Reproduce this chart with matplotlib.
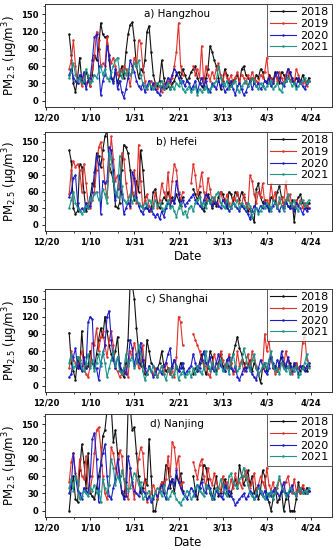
import matplotlib
matplotlib.use("Agg")
import matplotlib.pyplot as plt
import numpy as np
from matplotlib.ticker import FixedLocator, MultipleLocator

nan = np.nan

# day offsets from 12/20; data cover 12/31 .. 4/23
days = np.arange(11, 126)
years = ["2018", "2019", "2020", "2021"]
colors = ["#111111", "#e0302c", "#1c1cc8", "#1a9488"]

tick_pos = [0, 21, 42, 63, 84, 105, 126]
tick_lab = ["12/20", "1/10", "1/31", "2/21", "3/13", "4/3", "4/24"]

hz_2018 = [115, 80, 30, 15, 40, 75, 35,
           30, 50, 40, 25, 45, 80, 70,
           90, 135, 115, 110, 112, 70, 40,
           35, 50, 30, 45, 60, 40, 85,
           115, 132, 136, 105, 60, 40, 55,
           50, 70, 120, 130, 85, 45, 30,
           25, 35, 70, 40, 22, 25, 20,
           30, 35, 45, 50, 40, 55, 45,
           35, 40, 50, 55, 60, 40, 30,
           25, 20, 40, 55, 95, 85, 70,
           60, 40, 20, 35, 55, 45, 30,
           25, 35, 40, 45, 30, 55, 60,
           45, 40, 35, 40, 30, 45, 40,
           55, 50, 35, 30, 45, 40, 35,
           50, 40, 30, 50, 45, 35, 40,
           50, 35, 30, 40, 35, 30, 45,
           35, 30, 40]
hz_2019 = [55, 70, 105, 60, 30, 40, 25,
           45, 30, 35, 25, 55, 75, 120,
           105, 60, 65, 60, 110, 80, 65,
           75, 60, 45, 55, 50, 60, 55,
           45, 25, 55, 75, 60, 105, 100,
           60, 35, 20, 30, 35, 25, 30,
           20, 25, 15, 30, 25, 35, 30,
           40, 60, 85, 135, 60, 45, nan,
           nan, nan, nan, 60, 45, 55, 40,
           95, 30, 60, 45, 35, 50, 40,
           55, 65, 45, 30, 50, 40, 35,
           45, 30, 40, 50, 35, 45, 40,
           30, 45, 35, 50, 40, 35, 30,
           45, 40, 50, 75, 35, 40, 30,
           45, 35, 50, 40, 30, 45, 55,
           35, 40, 30, 55, 45, 35, 30,
           35, 25, 35]
hz_2020 = [45, 55, 40, 35, 30, 45, 35,
           50, 20, 35, 40, 70, 110, 115,
           60, 10, 35, 45, 95, 80, 40,
           30, 55, 20, 35, 15, 5, 20,
           40, 70, 60, 50, 35, 25, 20,
           30, 15, 25, 35, 20, 30, 20,
           15, 10, 25, 20, 30, 40, 35,
           45, 55, 50, 40, 30, 35, 25,
           35, 30, 20, 25, 35, 15, 30,
           40, 25, 35, 20, 15, 30, 25,
           20, 35, 25, 30, 15, 20, 25,
           35, 20, 10, 25, 30, 20, 10,
           15, 25, 35, 20, 30, 25, 30,
           20, 25, 35, 30, 40, 25, 30,
           45, 50, 40, 30, 25, 35, 55,
           50, 40, 30, 25, 40, 35, 25,
           20, 30, 35]
hz_2021 = [40, 50, 65, 45, 35, 40, 30,
           35, 55, 45, 30, 35, 45, 40,
           50, 60, 45, 55, 40, 35, 50,
           60, 70, 75, 50, 40, 55, 45,
           55, 45, 50, 65, 60, 70, 45,
           30, 25, 20, 30, 25, 20, 25,
           30, 25, 35, 20, 25, 30, 20,
           25, 20, 30, 25, 35, 20, 15,
           20, 25, 15, 20, 25, 10, 20,
           15, 20, 25, 15, 20, 25, 30,
           35, 60, 40, 30, 25, 35, 20,
           25, 30, 35, 20, 15, 25, 30,
           35, 25, 30, 40, 35, 25, 20,
           30, 25, 20, 25, 30, 35, 20,
           25, 30, 20, 15, 30, 35, 40,
           35, 25, 30, 20, 25, 30, 35,
           40, 30, 35]

hf_2018 = [135, 115, 30, 20, 25, 110, 105,
           60, 25, 35, 50, 75, 70, 130,
           125, 105, 135, 160, 170, 110, 95,
           80, 35, 30, 40, 100, 145, 140,
           130, 100, 60, 45, 80, 60, 135,
           100, 50, 30, 25, 30, 60, 65,
           40, 30, 40, 50, 45, 60, 45,
           50, 40, 55, 45, 35, 50, nan,
           nan, nan, nan, 65, 55, 45, 60,
           30, 25, 40, 55, 45, 30, 40,
           35, 50, 60, 55, 45, 30, 60,
           55, 40, 60, 55, 45, 60, 50,
           40, 25, 30, 15, 5, 65, 75,
           50, 40, 45, 35, 30, 50, 45,
           40, 60, 70, 50, 35, 45, 35,
           30, 45, 5, 40, 50, 55, 40,
           35, 30, 40]
hf_2019 = [55, 100, 115, 105, 110, 100, 60,
           110, 75, 40, 30, 45, 60, 100,
           140, 150, 120, 75, 50, 100, 160,
           120, 80, 90, 65, 130, 120, 75,
           50, 30, 60, 100, 40, 145, 80,
           30, 45, 55, 35, 25, 35, 60,
           30, 45, 75, 60, 50, 95, 40,
           80, 110, 100, 60, 45, 60, nan,
           nan, nan, 75, 110, 90, 55, 70,
           95, 60, 45, 85, 65, 40, 50,
           40, 35, 60, 45, 40, 55, 40,
           30, 50, 45, 60, 40, 35, 55,
           40, 30, 90, 80, 55, 40, 60,
           50, 75, 40, 45, 35, 75, 45,
           60, 30, 40, 50, 35, 80, 45,
           55, 35, 30, 45, 35, 45, 30,
           40, 35, 30]
hf_2020 = [50, 60, 85, 90, 40, 25, 30,
           25, 40, 30, 35, 60, 95, 125,
           110, 20, 80, 75, 80, 140, 135,
           100, 45, 65, 90, 55, 20, 30,
           40, 35, 95, 85, 50, 35, 25,
           20, 30, 35, 25, 30, 20, 15,
           20, 10, 25, 15, 30, 40, 35,
           45, 40, 80, 55, 40, 45, 35,
           40, 45, 50, 55, 45, 40, 35,
           30, 45, 55, 50, 40, 35, 45,
           40, 35, 30, 45, 40, 35, 25,
           30, 40, 35, 30, 25, 35, 30,
           25, 20, 10, 25, 35, 30, 25,
           35, 30, 40, 35, 25, 30, 35,
           40, 30, 25, 35, 30, 40, 35,
           30, 35, 25, 40, 35, 30, 20,
           30, 25, 30]
hf_2021 = [30, 45, 60, 40, 30, 25, 20,
           25, 35, 30, 50, 45, 55, 60,
           45, 50, 65, 55, 40, 130, 120,
           80, 60, 50, 125, 70, 45, 40,
           45, 55, 40, 50, 45, 40, 35,
           30, 40, 35, 45, 40, 30, 45,
           35, 40, 30, 25, 35, 45, 30,
           35, 25, 15, 30, 40, 20, 25,
           15, 30, 35, 25, 40, 45, 50,
           35, 40, 30, 45, 40, 50, 45,
           55, 60, 40, 35, 30, 45, 35,
           30, 40, 35, 45, 30, 40, 35,
           30, 40, 35, 15, 25, 30, 20,
           25, 35, 30, 40, 35, 25, 45,
           40, 30, 50, 35, 25, 45, 55,
           40, 35, 45, 30, 25, 40, 45,
           35, 40, 45]

sh_2018 = [92, 40, 25, 10, 50, 30, 95,
           40, 30, 35, 60, 40, 30, 55,
           80, 100, 85, 120, 95, 70, 55,
           45, 60, 85, 30, 20, 15, 40,
           80, 180, 175, 150, 100, 60, 35,
           45, 20, 80, 60, 40, 35, 25,
           30, 40, 60, 35, 25, 30, 20,
           35, 45, 30, 25, 40, 30, nan,
           nan, nan, nan, 20, 30, 25, 40,
           55, 35, 20, 30, 60, 50, 30,
           25, 40, 55, 35, 25, 45, 30,
           40, 55, 70, 85, 65, 55, 40,
           30, 35, 45, 25, 40, 30, 20,
           5, 30, 40, 25, 45, 50, 30,
           35, 25, 40, 50, 30, 35, 45,
           40, 30, 35, 40, 30, 25, 35,
           30, 25, 35]
sh_2019 = [30, 60, 45, 40, 30, 45, 60,
           35, 20, 15, 35, 75, 70, 100,
           60, 85, 95, 70, 50, 80, 95,
           70, 30, 25, 15, 20, 25, 35,
           15, 60, 50, 75, 55, 30, 45,
           70, 25, 20, 30, 25, 20, 30,
           15, 25, 35, 20, 40, 30, 20,
           25, 15, 50, 120, 110, 70, nan,
           nan, nan, nan, 90, 80, 70, 60,
           45, 35, 40, 20, 15, 35, 55,
           40, 30, 60, 45, 35, 30, 55,
           40, 20, 25, 60, 35, 45, 25,
           40, 55, 30, 60, 45, 35, 20,
           25, 30, 90, 60, 80, 45, 35,
           20, 25, 30, 40, 35, 60, 45,
           30, 20, 25, 40, 30, 35, 75,
           90, 45, 40]
sh_2020 = [15, 20, 50, 65, 30, 40, 25,
           50, 30, 110, 120, 115, 35, 30,
           10, 40, 55, 70, 120, 130, 80,
           45, 30, 50, 40, 25, 30, 20,
           40, 80, 65, 35, 55, 40, 75,
           45, 30, 20, 35, 25, 15, 20,
           30, 25, 20, 35, 40, 55, 65,
           30, 45, 35, 25, 30, 40, 20,
           25, 30, 35, 55, 40, 25, 30,
           45, 60, 40, 35, 50, 30, 25,
           40, 55, 35, 30, 25, 45, 50,
           30, 25, 35, 15, 10, 20, 30,
           25, 35, 30, 20, 15, 10, 30,
           45, 35, 25, 20, 30, 50, 40,
           30, 45, 35, 60, 40, 30, 50,
           35, 25, 40, 30, 20, 35, 30,
           25, 35, 40]
sh_2021 = [40, 55, 30, 35, 50, 45, 30,
           25, 40, 55, 30, 45, 25, 40,
           55, 35, 60, 40, 15, 30, 45,
           60, 35, 50, 25, 20, 30, 55,
           35, 45, 50, 30, 40, 70, 55,
           25, 10, 20, 30, 25, 35, 20,
           15, 25, 35, 20, 10, 25, 30,
           15, 20, 35, 10, 20, 25, 15,
           20, 25, 15, 30, 20, 35, 25,
           20, 30, 60, 35, 25, 40, 30,
           20, 35, 45, 25, 30, 40, 20,
           45, 55, 35, 25, 30, 40, 65,
           50, 35, 25, 45, 55, 30, 20,
           25, 35, 40, 30, 45, 60, 35,
           25, 30, 20, 40, 30, 25, 35,
           20, 30, 25, 35, 15, 20, 30,
           40, 55, 30]

nj_2018 = [0, 40, 60, 20, 15, 70, 115,
           85, 40, 100, 30, 25, 20, 40,
           60, 80, 130, 140, 175, 200, 180,
           120, 140, 100, 60, 30, 25, 50,
           175, 180, 140, 145, 100, 60, 30,
           40, 55, 45, 125, 60, 0, 0,
           20, 35, 50, 45, 80, 75, 40,
           55, 30, 60, 50, 65, 35, nan,
           nan, nan, nan, 60, 35, 20, 40,
           55, 80, 75, 55, 30, 20, 40,
           60, 25, 30, 45, 55, 40, 25,
           30, 45, 55, 40, 80, 60, 45,
           55, 70, 45, 60, 30, 40, 20,
           35, 70, 60, 25, 15, 0, 20,
           40, 15, 20, 35, 0, 20, 30,
           0, 0, 0, 20, 50, 30, 40,
           30, 40, 35]
nj_2019 = [50, 85, 100, 65, 45, 90, 60,
           55, 95, 40, 35, 60, 100, 140,
           145, 110, 60, 30, 20, 45, 110,
           100, 75, 60, 105, 95, 55, 30,
           20, 75, 45, 20, 60, 90, 110,
           100, 50, 15, 25, 30, 45, 35,
           20, 40, 50, 30, 55, 95, 60,
           120, 110, 75, 95, 40, 50, nan,
           nan, nan, nan, 85, 70, 55, 80,
           90, 60, 40, 75, 55, 45, 65,
           50, 40, 35, 60, 45, 50, 35,
           55, 40, 65, 45, 50, 40, 60,
           70, 55, 40, 50, 65, 35, 45,
           60, 50, 40, 75, 45, 35, 50,
           30, 40, 55, 45, 35, 50, 60,
           40, 30, 55, 35, 40, 30, 45,
           35, 30, 35]
nj_2020 = [30, 45, 100, 60, 35, 30, 20,
           40, 35, 30, 60, 125, 135, 90,
           15, 80, 100, 115, 60, 25, 20,
           40, 55, 90, 60, 35, 20, 25,
           95, 75, 50, 35, 30, 25, 40,
           35, 30, 20, 25, 15, 20, 30,
           25, 35, 45, 30, 20, 40, 50,
           55, 45, 70, 50, 40, 30, 25,
           20, 30, 40, 35, 25, 45, 40,
           50, 35, 30, 45, 40, 25, 20,
           35, 30, 25, 20, 45, 30, 35,
           25, 20, 10, 15, 20, 25, 30,
           20, 25, 35, 30, 20, 25, 45,
           30, 25, 35, 20, 30, 25, 35,
           40, 30, 25, 35, 50, 30, 25,
           35, 45, 30, 25, 35, 40, 30,
           35, 30, 35]
nj_2021 = [40, 55, 35, 60, 50, 20, 25,
           35, 30, 25, 40, 35, 45, 30,
           35, 15, 55, 40, 30, 45, 90,
           75, 45, 60, 50, 70, 55, 45,
           35, 40, 55, 65, 60, 45, 50,
           20, 25, 30, 35, 20, 25, 30,
           40, 35, 25, 45, 30, 20, 25,
           35, 30, 20, 15, 10, 20, 25,
           35, 30, 20, 25, 40, 45, 35,
           30, 25, 45, 40, 35, 20, 25,
           40, 35, 55, 45, 30, 25, 60,
           65, 50, 45, 40, 55, 60, 75,
           60, 45, 30, 25, 20, 30, 40,
           35, 25, 20, 30, 25, 35, 20,
           30, 45, 60, 40, 35, 25, 30,
           40, 35, 30, 25, 35, 40, 30,
           35, 30, 40]

panels = [
    ("a) Hangzhou", [hz_2018, hz_2019, hz_2020, hz_2021], False),
    ("b) Hefei", [hf_2018, hf_2019, hf_2020, hf_2021], True),
    ("c) Shanghai", [sh_2018, sh_2019, sh_2020, sh_2021], False),
    ("d) Nanjing", [nj_2018, nj_2019, nj_2020, nj_2021], True),
]

W, H = 336, 550
# axes boxes in pixels: top, bottom
boxes = [(4, 107), (132, 231), (289, 392), (414, 517)]
left_px, right_px = 45, 332

fig = plt.figure(figsize=(W / 100, H / 100), dpi=100)

for (title, series, show_date), (top, bot) in zip(panels, boxes):
    ax = fig.add_axes([left_px / W, 1 - bot / H, (right_px - left_px) / W, (bot - top) / H])
    for yr, vals, c in zip(years, series, colors):
        ax.plot(days, vals, color=c, lw=0.8, marker=".", ms=1.6, label=yr)
    ax.set_xlim(-0.5, 136)
    ax.set_ylim(-11, 168)
    ax.set_xticks(tick_pos)
    ax.set_xticklabels(tick_lab)
    ax.set_yticks([0, 30, 60, 90, 120, 150])
    ax.xaxis.set_minor_locator(FixedLocator([13.3 + 21 * k for k in range(6)]))
    ax.yaxis.set_minor_locator(MultipleLocator(15))
    ax.tick_params(which="major", direction="out", length=2.5, width=0.6,
                   labelsize=6, pad=2)
    ax.tick_params(which="minor", direction="out", length=1.5, width=0.5)
    for lab in ax.get_xticklabels() + ax.get_yticklabels():
        lab.set_fontweight("bold")
    for sp in ax.spines.values():
        sp.set_linewidth(0.7)
        sp.set_color("#333333")
    ax.text(0.46, 0.9, title, transform=ax.transAxes, ha="center", va="center",
            fontsize=7.5)
    ax.set_ylabel("PM$_{2.5}$ (μg/m$^3$)", fontsize=8.5, labelpad=1)
    if show_date:
        ax.set_xlabel("Date", fontsize=8.5, labelpad=3)
    leg = ax.legend(loc="upper right", fontsize=8, frameon=True, fancybox=False,
                    borderaxespad=0, handlelength=2.3, labelspacing=0.15,
                    borderpad=0.3, handletextpad=0.4)
    leg.get_frame().set_edgecolor("#333333")
    leg.get_frame().set_linewidth(0.7)

fig.savefig("out.png", dpi=100)
